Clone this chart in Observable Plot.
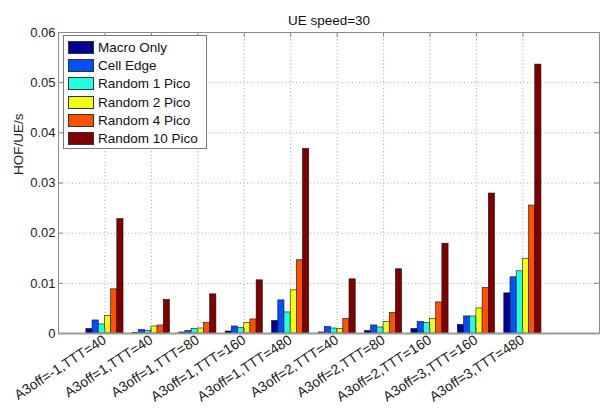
<!DOCTYPE html>
<html>
<head>
<meta charset="utf-8">
<script src="https://cdn.jsdelivr.net/npm/d3@7"></script>
<script src="https://cdn.jsdelivr.net/npm/@observablehq/plot@0.6"></script>
<style>
  body { margin: 0; background: #fff; font-family: "Liberation Sans", Arial, sans-serif; }
  #chart { position: relative; width: 609px; height: 409px; }
  .legend {
    position: absolute; left: 63px; top: 35px; width: 144px; height: 114px;
    border: 1px solid #7a7a7a; background: #fff; box-sizing: border-box; padding: 2px 0 0 4px;
  }
  .legend .row { display: flex; align-items: center; height: 18.3px; font-size: 13.5px; color: #111; white-space: nowrap; }
  .legend .sw { width: 26px; height: 13px; border: 1px solid #333; box-sizing: border-box; margin-right: 4px; flex: none; }
</style>
</head>
<body>
<div id="chart"></div>
<script>
// Handover failures per UE per second, UE speed 30
const groups = [
  "A3off=-1,TTT=40", "A3off=1,TTT=40", "A3off=1,TTT=80", "A3off=1,TTT=160", "A3off=1,TTT=480",
  "A3off=2,TTT=40", "A3off=2,TTT=80", "A3off=2,TTT=160", "A3off=3,TTT=160", "A3off=3,TTT=480"
];
const series = ["Macro Only", "Cell Edge", "Random 1 Pico", "Random 2 Pico", "Random 4 Pico", "Random 10 Pico"];
const colors = ["#000090", "#0050ff", "#20ffdf", "#effF10", "#ff5000", "#800000"];

const macroOnly   = [0.0009, 0.0001, 0.0002, 0.0004, 0.0025, 0.0002, 0.0005, 0.0009, 0.0017, 0.0080];
const cellEdge    = [0.0026, 0.0007, 0.0005, 0.0014, 0.0066, 0.0013, 0.0016, 0.0023, 0.0034, 0.0112];
const random1     = [0.0018, 0.0005, 0.0009, 0.0011, 0.0042, 0.0010, 0.0012, 0.0021, 0.0034, 0.0124];
const random2     = [0.0035, 0.0014, 0.0010, 0.0021, 0.0086, 0.0009, 0.0023, 0.0029, 0.0050, 0.0149];
const random4     = [0.0088, 0.0016, 0.0021, 0.0028, 0.0146, 0.0029, 0.0041, 0.0062, 0.0091, 0.0255];
const random10    = [0.0228, 0.0067, 0.0078, 0.0106, 0.0368, 0.0108, 0.0128, 0.0179, 0.0279, 0.0536];

const yTicks = [0, 0.01, 0.02, 0.03, 0.04, 0.05, 0.06];

// grouped bars: group g sits at x = g, bars share 0.8 of a unit
const valuesBySeries = [macroOnly, cellEdge, random1, random2, random4, random10];
const groupWidth = 0.8;
const barWidth = groupWidth / series.length;
const table = [];
valuesBySeries.forEach((vals, s) => {
  vals.forEach((v, i) => {
    const g = i + 1;
    table.push({
      series: series[s],
      x1: g - groupWidth / 2 + s * barWidth,
      x2: g - groupWidth / 2 + (s + 1) * barWidth,
      value: v
    });
  });
});

const positions = groups.map((_, i) => i + 1);
const W = 609, H = 409, mL = 58, mR = 10, mT = 32, mB = 76;
const frameW = W - mL - mR, frameH = H - mT - mB;
const tick = 5;

const plot = Plot.plot({
  width: W, height: H,
  marginLeft: mL, marginRight: mR, marginTop: mT, marginBottom: mB,
  style: { fontFamily: "Liberation Sans, Arial, sans-serif", fontSize: "13px", color: "#222", background: "#fff" },
  x: { domain: [0, 11.65], axis: null },
  y: { domain: [0, 0.06], axis: null },
  color: { domain: series, range: colors },
  marks: [
    // dotted grid
    Plot.ruleX(positions, { x: d => d, stroke: "#aaa", strokeDasharray: "1,2.5" }),
    Plot.ruleY(yTicks.slice(1, -1), { y: d => d, stroke: "#aaa", strokeDasharray: "1,2.5" }),
    // bars
    Plot.rectY(table, { x1: "x1", x2: "x2", y: "value", fill: "series", stroke: "#111", strokeWidth: 0.6 }),
    // inward tick marks on all four sides
    Plot.tickX(positions, { x: d => d, insetTop: frameH - tick, stroke: "#888" }),
    Plot.tickX(positions, { x: d => d, insetBottom: frameH - tick, stroke: "#888" }),
    Plot.tickY(yTicks, { y: d => d, insetRight: frameW - tick, stroke: "#888" }),
    Plot.tickY(yTicks, { y: d => d, insetLeft: frameW - tick, stroke: "#888" }),
    Plot.frame({ stroke: "#8a8a8a" }),
    Plot.ruleY([0], { stroke: "#999", strokeWidth: 1.8 }),
    // axes
    Plot.axisY(yTicks, {
      tickSize: 0, tickPadding: 3, label: null, fill: "#222", fontSize: 13,
      tickFormat: d => d === 0 ? "0" : d.toFixed(2)
    }),
    Plot.axisX(positions, {
      tickSize: 0, tickPadding: 5, label: null, fill: "#222", fontSize: 14,
      tickRotate: -33, tickFormat: d => groups[d - 1]
    }),
    // title and y label
    Plot.text(["UE speed=30"], { text: d => d, frameAnchor: "top", dy: -17, fontSize: 13.5, fill: "#111" }),
    Plot.text(["HOF/UE/s"], { text: d => d, frameAnchor: "left", rotate: -90, dx: -40, dy: -8, fontSize: 13.5, fill: "#222" })
  ]
});

const root = document.getElementById("chart");
root.appendChild(plot);

// legend box inside the plot area
const legend = document.createElement("div");
legend.className = "legend";
series.forEach((name, i) => {
  const row = document.createElement("div");
  row.className = "row";
  const sw = document.createElement("span");
  sw.className = "sw";
  sw.style.background = colors[i];
  const label = document.createElement("span");
  label.textContent = name;
  row.appendChild(sw);
  row.appendChild(label);
  legend.appendChild(row);
});
root.appendChild(legend);
</script>
</body>
</html>
